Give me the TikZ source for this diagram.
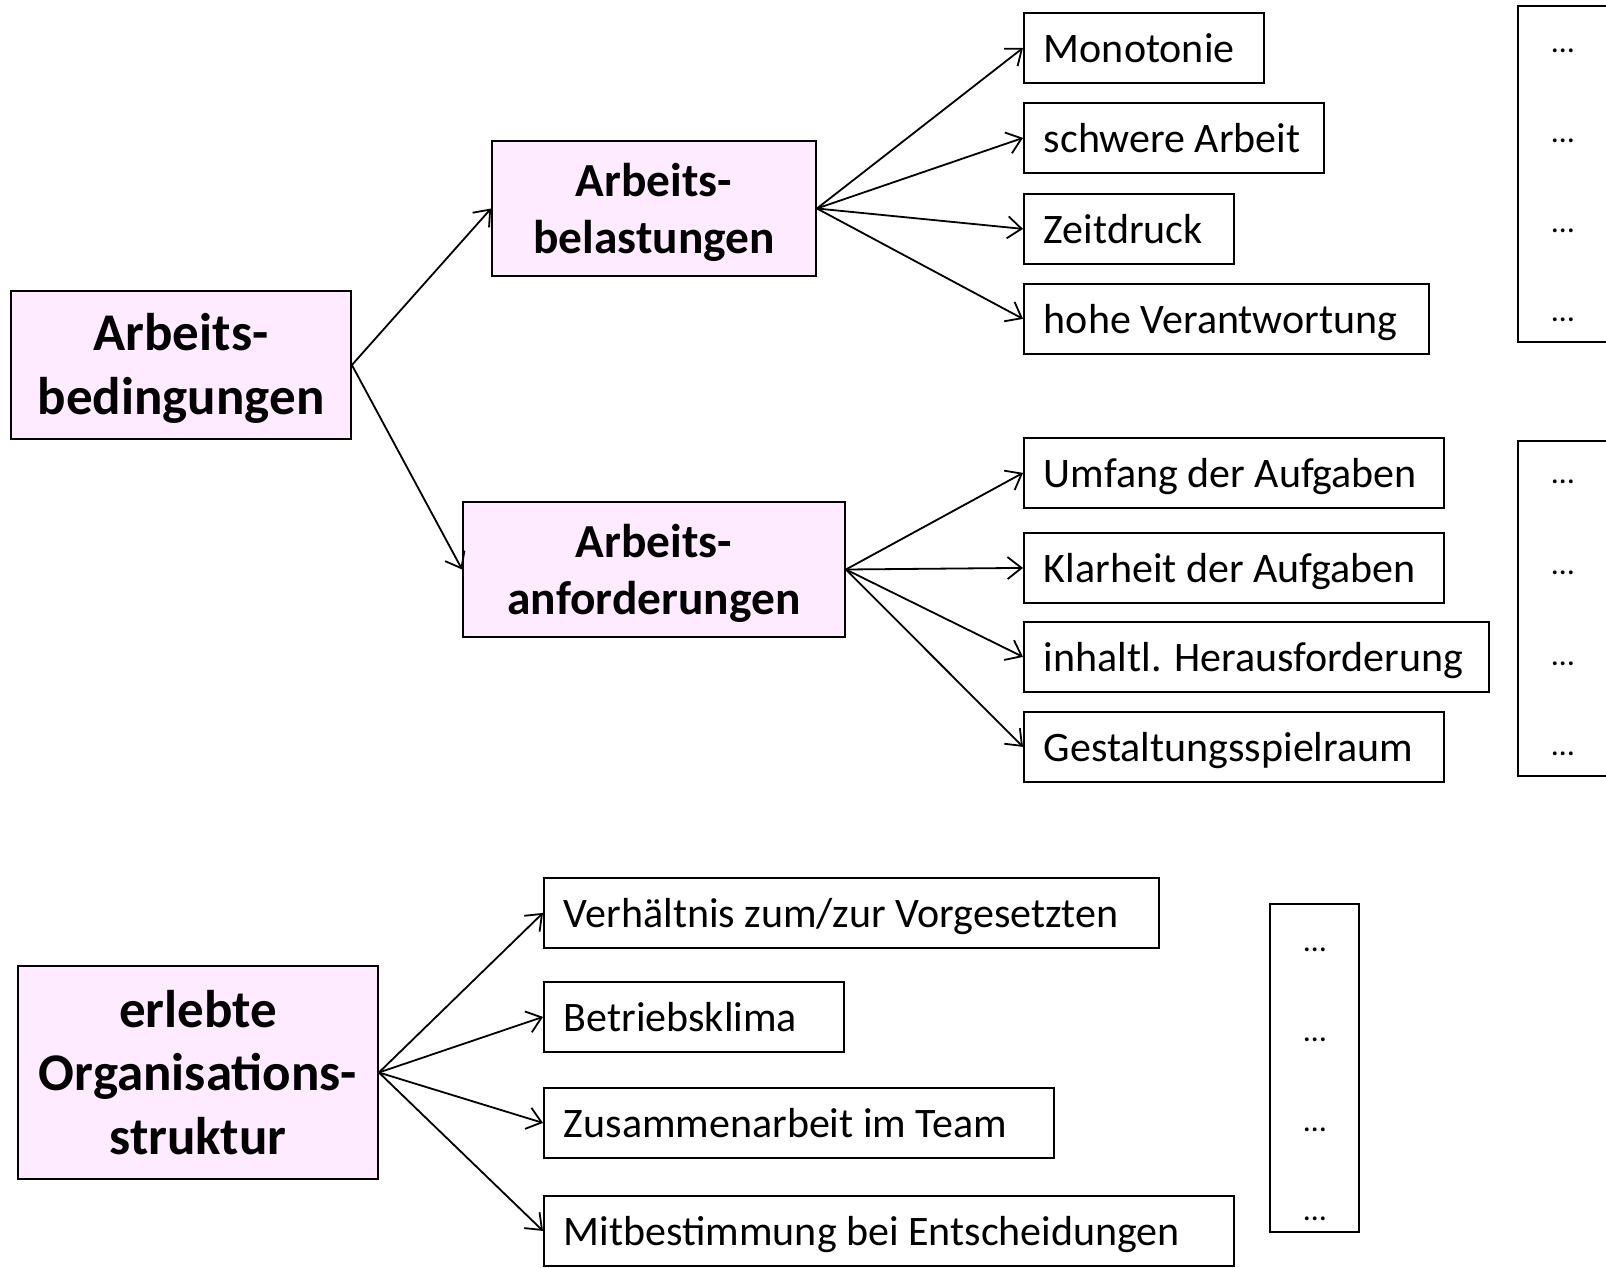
\documentclass[tikz,border=0pt]{standalone}
\usepackage{fontspec}
\setmainfont{Carlito}
\usetikzlibrary{arrows.meta}
\definecolor{boxpink}{RGB}{255,235,255}
\tikzset{
  mainbox/.style={draw, line width=0.9pt, fill=boxpink, align=center, inner sep=0pt},
  leaf/.style={draw, line width=0.9pt, anchor=north west, minimum height=35pt, inner xsep=10pt, inner ysep=0pt,
     font=\fontsize{21}{25}\selectfont, text height=17pt, text depth=2pt},
  dotbox/.style={draw, line width=1pt, inner sep=0pt},
  dots/.style={font=\fontsize{16}{18}\selectfont, inner sep=0pt, anchor=base},
  arr/.style={line width=0.9pt, -{Straight Barb[length=7pt,width=11pt,line width=0.9pt]}}
}
\newcommand{\twolines}[2]{\raisebox{-2.5pt}[\height][\depth]{\begin{tabular}{@{}c@{}}#1\\#2\end{tabular}}}
\begin{document}
\begin{tikzpicture}[x=0.5pt, y=-0.5pt]
\useasboundingbox (0,0) rectangle (1606,1268);
\clip (0,0) rectangle (1606,1268);
% main boxes
\node[mainbox, minimum width=170pt, minimum height=74pt, font=\bfseries\fontsize{26.5}{32}\selectfont] (bed) at (181,365) {\twolines{Arbeits-}{bedingungen}};
\node[mainbox, minimum width=162pt, minimum height=67.5pt, font=\bfseries\fontsize{23.7}{28.7}\selectfont] (bel) at (654,208.5) {\twolines{Arbeits-}{belastungen}};
\node[mainbox, minimum width=191pt, minimum height=67.5pt, font=\bfseries\fontsize{23.7}{28.7}\selectfont] (anf) at (654,569.5) {\twolines{Arbeits-}{anforderungen}};
\node[mainbox, minimum width=180pt, minimum height=106.5pt, font=\bfseries\fontsize{26.5}{31.7}\selectfont] (org) at (198,1072.5) {erlebte\\Organisations-\\struktur};
% leaves
\node[leaf] (mono) at (1023,12) {\makebox[100pt][l]{Monotonie}};
\node[leaf] (schw) at (1023,102) {\makebox[130pt][l]{schwere Arbeit}};
\node[leaf] (zeit) at (1023,193) {\makebox[85pt][l]{Zeitdruck}};
\node[leaf] (hohe) at (1023,283) {\makebox[182.5pt][l]{hohe Verantwortung}};
\node[leaf] (umf) at (1023,437) {\makebox[190pt][l]{Umfang der Aufgaben}};
\node[leaf] (klar) at (1023,532) {\makebox[190pt][l]{Klarheit der Aufgaben}};
\node[leaf] (inh) at (1023,621) {\makebox[212.5pt][l]{inhaltl. Herausforderung}};
\node[leaf] (gest) at (1023,711) {\makebox[190pt][l]{Gestaltungsspielraum}};
\node[leaf] (verh) at (543,877) {\makebox[287.5pt][l]{Verhältnis zum/zur Vorgesetzten}};
\node[leaf] (betr) at (543,981) {\makebox[130pt][l]{Betriebsklima}};
\node[leaf] (zus) at (543,1087) {\makebox[235pt][l]{Zusammenarbeit im Team}};
\node[leaf] (mit) at (543,1195) {\makebox[325pt][l]{Mitbestimmung bei Entscheidungen}};
% right boxes
\node[dotbox, minimum width=61pt, minimum height=168pt] (r1) at (1579,174) {};
\node[dotbox, minimum width=61pt, minimum height=167.5pt] (r2) at (1579,608.5) {};
\node[dotbox, minimum width=44.5pt, minimum height=164pt] (r3) at (1314.5,1068) {};
\node[dots] (d1) at (1563,53) {…};
\node[dots] (d2) at (1563,142) {…};
\node[dots] (d3) at (1563,232) {…};
\node[dots] (d4) at (1563,321) {…};
\node[dots] (d5) at (1563,483) {…};
\node[dots] (d6) at (1563,574) {…};
\node[dots] (d7) at (1563,665) {…};
\node[dots] (d8) at (1563,755) {…};
\node[dots] (d9) at (1315,951) {…};
\node[dots] (d10) at (1315,1041) {…};
\node[dots] (d11) at (1315,1131) {…};
\node[dots] (d12) at (1315,1220) {…};
% arrows
\draw[arr] (bed.east) -- (bel.west);
\draw[arr] (bed.east) -- (anf.west);
\foreach \t in {mono,schw,zeit,hohe} \draw[arr] (bel.east) -- (\t.west);
\foreach \t in {umf,klar,inh,gest} \draw[arr] (anf.east) -- (\t.west);
\foreach \t in {verh,betr,zus,mit} \draw[arr] (org.east) -- (\t.west);
\end{tikzpicture}
\end{document}
